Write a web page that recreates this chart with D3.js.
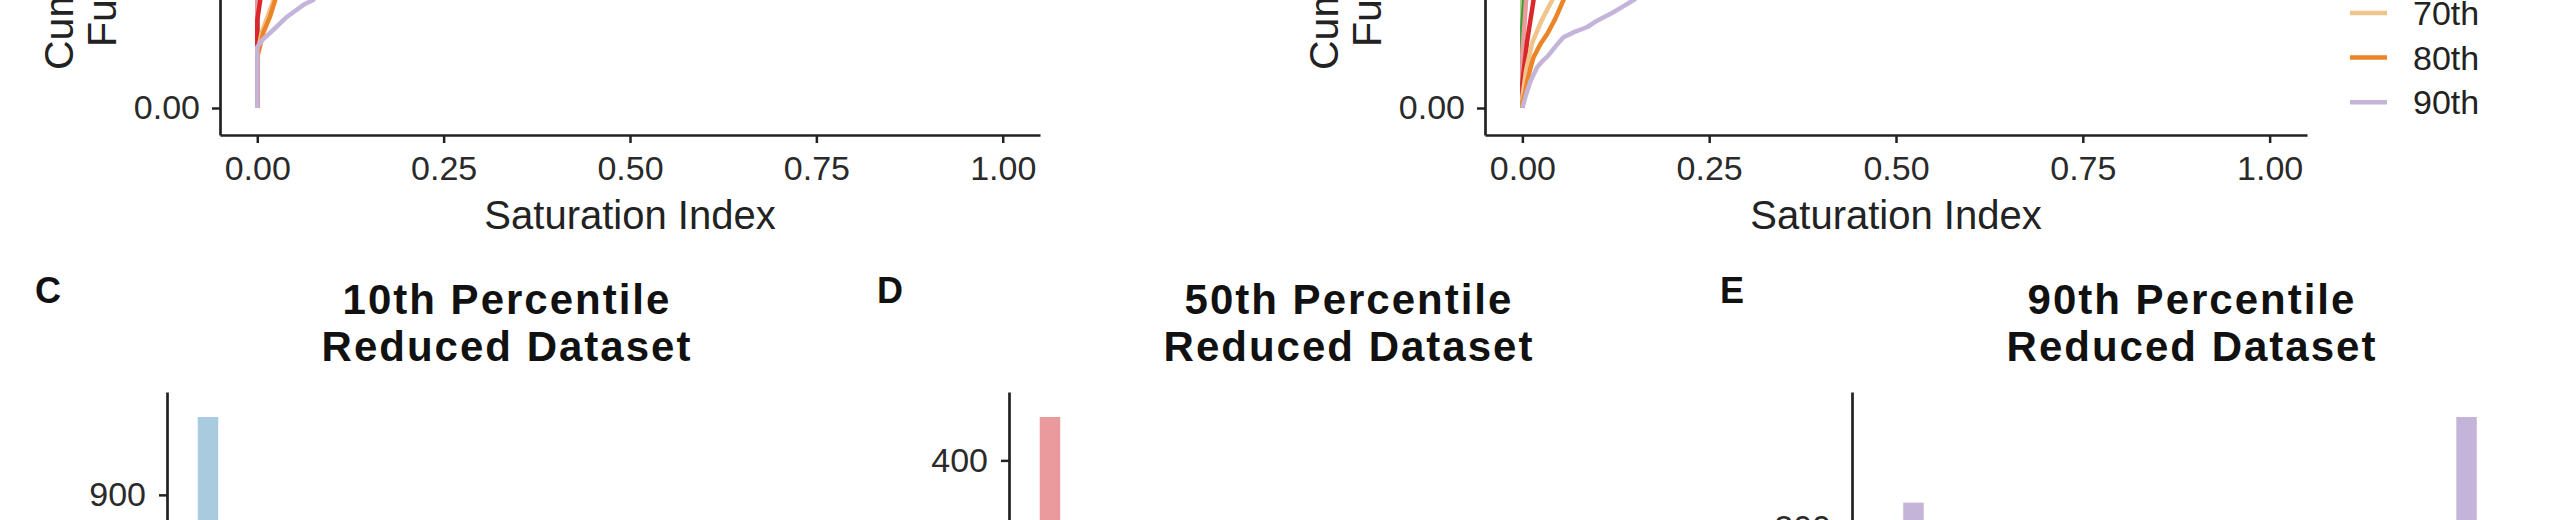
<!DOCTYPE html>
<html>
<head>
<meta charset="utf-8">
<script src="https://cdn.jsdelivr.net/npm/d3@7"></script>
<style>
body { margin: 0; background: #fff; }
text { font-family: "Liberation Sans", Arial, Helvetica, sans-serif; }
</style>
</head>
<body>
<div id="plot"></div>
<script>
// percentile groups + colours (ColorBrewer Paired, a bit muted like the print)
const percentiles = ["10th", "20th", "30th", "40th", "50th", "60th", "70th", "80th", "90th"];
const percentileColors = ["#a8cbe0", "#2a78b0", "#b4d98e", "#3a9a34", "#ea999c", "#d9272c", "#f0c48a", "#ec8428", "#c5b4da"];
const cdfTicks = [0, 0.25, 0.5, 0.75, 1];

// ECDF curves, panel A  ([saturation index, cumulative fraction]), one row per percentile
const curvesA = [
    [[0,0],[0,0.62],[0.01,0.75],[0.03,0.85],[0.08,0.93],[0.2,0.97],[0.5,0.99],[1,1]],
    [[0,0],[0,0.55],[0.01,0.68],[0.03,0.8],[0.08,0.9],[0.2,0.96],[0.5,0.99],[1,1]],
    [[0,0],[0,0.46],[0.01,0.6],[0.03,0.74],[0.08,0.86],[0.2,0.94],[0.5,0.98],[1,1]],
    [[0,0],[0,0.36],[0.005,0.45],[0.02,0.6],[0.06,0.76],[0.2,0.91],[0.5,0.97],[1,1]],
    [[0,0],[0,0.28],[0.005,0.38],[0.02,0.52],[0.06,0.7],[0.2,0.87],[0.5,0.96],[1,1]],
    [[0,0],[0,0.163],[0.004,0.2],[0.01,0.27],[0.03,0.42],[0.08,0.6],[0.2,0.8],[0.5,0.94],[1,1]],
    [[0,0],[0,0.1],[0.006,0.14],[0.014,0.17],[0.022,0.2],[0.04,0.28],[0.1,0.47],[0.25,0.72],[0.5,0.9],[1,1]],
    [[0,0],[0,0.094],[0.008,0.139],[0.017,0.169],[0.024,0.2],[0.045,0.27],[0.1,0.42],[0.25,0.66],[0.5,0.86],[1,1]],
    [[0,0],[0,0.113],[0.007,0.126],[0.021,0.144],[0.04,0.169],[0.062,0.191],[0.075,0.2],[0.12,0.28],[0.2,0.4],[0.35,0.6],[0.6,0.82],[0.9,0.95],[1,1]]
];

// ECDF curves, panel B
const curvesB = [
    [[0,0],[0,0.7],[0.01,0.8],[0.04,0.88],[0.1,0.94],[0.3,0.98],[1,1]],
    [[0,0],[0,0.6],[0.01,0.72],[0.04,0.83],[0.1,0.91],[0.3,0.97],[1,1]],
    [[0,0],[0,0.45],[0.01,0.6],[0.04,0.75],[0.1,0.86],[0.3,0.95],[1,1]],
    [[0,0],[0,0.15],[0.005,0.25],[0.015,0.4],[0.05,0.6],[0.15,0.8],[0.4,0.94],[1,1]],
    [[0,0],[0,0.1],[0.005,0.2],[0.015,0.32],[0.05,0.52],[0.15,0.74],[0.4,0.91],[1,1]],
    [[0,0],[0,0.046],[0.006,0.12],[0.015,0.2],[0.04,0.35],[0.1,0.55],[0.25,0.77],[0.5,0.9],[1,1]],
    [[0,0],[0,0.02],[0.005,0.07],[0.013,0.12],[0.025,0.16],[0.04,0.2],[0.08,0.32],[0.2,0.55],[0.5,0.84],[1,1]],
    [[0,0],[0,0.01],[0.004,0.03],[0.007,0.052],[0.011,0.075],[0.015,0.094],[0.024,0.118],[0.034,0.139],[0.044,0.165],[0.055,0.2],[0.1,0.3],[0.2,0.45],[0.4,0.68],[0.7,0.88],[1,1]],
    [[0,0],[0.005,0.025],[0.011,0.05],[0.02,0.076],[0.027,0.087],[0.034,0.096],[0.045,0.115],[0.055,0.131],[0.07,0.141],[0.087,0.15],[0.098,0.16],[0.109,0.168],[0.12,0.176],[0.131,0.185],[0.149,0.2],[0.2,0.26],[0.3,0.38],[0.5,0.6],[0.75,0.82],[1,1]]
];

// histogram counts (30 bins over saturation index 0..1)
const countsC = [1066, 38, 22, 15, 12, 9, 8, 6, 5, 5, 4, 4, 3, 3, 3, 2, 2, 2, 2, 2, 1, 1, 1, 1, 1, 1, 1, 2, 3, 9];
const countsD = [438, 62, 41, 30, 24, 20, 17, 15, 13, 12, 11, 10, 9, 8, 8, 7, 7, 6, 6, 6, 5, 5, 5, 6, 6, 7, 8, 10, 14, 30];
const countsE = [120, 213, 150, 110, 92, 80, 72, 66, 60, 56, 52, 49, 47, 45, 44, 43, 42, 42, 42, 43, 44, 46, 49, 53, 58, 66, 78, 98, 257, 140];
const ticksC = [0, 300, 600, 900];
const ticksD = [0, 100, 200, 300, 400];
const ticksE = [0, 100, 200];
const histTicksX = [0, 0.25, 0.5, 0.75, 1];

const svg = d3.select("#plot")
    .append("svg")
    .attr("width", 2560)
    .attr("height", 520);

function styleAxis(g, size) {
    g.attr("font-family", null).attr("font-size", null);
    g.select(".domain").attr("stroke", "#222").attr("stroke-width", 2.7);
    g.selectAll(".tick line").attr("stroke", "#222").attr("stroke-width", 2.5);
    g.selectAll(".tick text").attr("fill", "#2a2a2a").attr("font-size", size);
}

// cumulative distribution panel
function drawCdf(curves, x0, x1) {
    const x = d3.scaleLinear().domain([-0.05, 1.05]).range([x0, x1]);
    const y = d3.scaleLinear().domain([-0.05, 1.05]).range([135, -459]);
    const line = d3.line().x(d => x(d[0])).y(d => y(d[1]));
    const g = svg.append("g");

    g.selectAll("path.cdf")
        .data(curves)
        .join("path")
        .attr("class", "cdf")
        .attr("fill", "none")
        .attr("stroke", (d, i) => percentileColors[i])
        .attr("stroke-width", 4.5)
        .attr("stroke-linejoin", "round")
        .attr("d", line);

    const xAxis = g.append("g")
        .attr("transform", "translate(0,135)")
        .call(d3.axisBottom(x).tickValues(cdfTicks).tickFormat(d3.format(".2f"))
            .tickSize(8).tickPadding(13).tickSizeOuter(0));
    styleAxis(xAxis, 34);
    const yAxis = g.append("g")
        .attr("transform", "translate(" + x0 + ",0)")
        .call(d3.axisLeft(y).tickValues(cdfTicks).tickFormat(d3.format(".2f"))
            .tickSize(8).tickPadding(12).tickSizeOuter(0));
    styleAxis(yAxis, 34);

    g.append("text")
        .attr("x", (x0 + x1) / 2).attr("y", 229)
        .attr("text-anchor", "middle")
        .attr("font-size", 40)
        .attr("fill", "#222")
        .text("Saturation Index");
    // two line y title, rotated
    g.append("text")
        .attr("transform", "translate(" + (x0 - 147) + ",70) rotate(-90)")
        .attr("font-size", 41).attr("fill", "#222")
        .text("Cumulative Distribution");
    g.append("text")
        .attr("transform", "translate(" + (x0 - 104) + ",47) rotate(-90)")
        .attr("font-size", 41).attr("fill", "#222")
        .text("Function");
}

drawCdf(curvesA, 220, 1040);
drawCdf(curvesB, 1485, 2307);

// legend
const legend = svg.append("g");
const legendItem = legend.selectAll("g")
    .data(percentiles)
    .join("g")
    .attr("transform", (d, i) => "translate(0," + (13 + (i - 6) * 44.6) + ")");
legendItem.append("line")
    .attr("x1", 2350).attr("x2", 2387)
    .attr("stroke", (d, i) => percentileColors[i])
    .attr("stroke-width", 4.5);
legendItem.append("text")
    .attr("x", 2413).attr("dy", "0.35em")
    .attr("font-size", 34).attr("fill", "#222")
    .text(d => d);

// histogram panels
const binWidth = 1 / 29;
const binMids = d3.range(30).map(i => i * binWidth);

function drawHist(tag, titleLine, counts, ticks, color, left) {
    const w = 676;
    const lo = -binWidth / 2, hi = 1 + binWidth / 2, pad = (hi - lo) * 0.05;
    const x = d3.scaleLinear().domain([lo - pad, hi + pad]).range([left, left + w]);
    const M = d3.max(counts);
    const y = d3.scaleLinear().domain([-0.05 * M, 1.05 * M]).range([942, 392]);
    const g = svg.append("g");

    g.selectAll("rect")
        .data(counts)
        .join("rect")
        .attr("x", (d, i) => x(binMids[i] - binWidth / 2))
        .attr("width", (d, i) => x(binMids[i] + binWidth / 2) - x(binMids[i] - binWidth / 2))
        .attr("y", d => y(d))
        .attr("height", d => y(0) - y(d))
        .attr("fill", color);

    const yAxis = g.append("g")
        .attr("transform", "translate(" + left + ",0)")
        .call(d3.axisLeft(y).tickValues(ticks).tickSize(8).tickPadding(13).tickSizeOuter(0));
    styleAxis(yAxis, 34);
    const xAxis = g.append("g")
        .attr("transform", "translate(0,942)")
        .call(d3.axisBottom(x).tickValues(histTicksX).tickFormat(d3.format(".2f"))
            .tickSize(8).tickPadding(13).tickSizeOuter(0));
    styleAxis(xAxis, 34);

    g.append("text")
        .attr("x", left - 132).attr("y", 303)
        .attr("font-size", 36).attr("font-weight", "bold").attr("fill", "#111")
        .text(tag);
    g.append("text")
        .attr("x", left + w / 2 + 2).attr("y", 314)
        .attr("text-anchor", "middle")
        .attr("font-size", 42).attr("font-weight", "bold").attr("letter-spacing", 2)
        .attr("fill", "#111")
        .text(titleLine);
    g.append("text")
        .attr("x", left + w / 2 + 2).attr("y", 361)
        .attr("text-anchor", "middle")
        .attr("font-size", 42).attr("font-weight", "bold").attr("letter-spacing", 2)
        .attr("fill", "#111")
        .text("Reduced Dataset");
}

drawHist("C", "10th Percentile", countsC, ticksC, percentileColors[0], 167);
drawHist("D", "50th Percentile", countsD, ticksD, percentileColors[4], 1009);
drawHist("E", "90th Percentile", countsE, ticksE, percentileColors[8], 1852);
</script>
</body>
</html>
